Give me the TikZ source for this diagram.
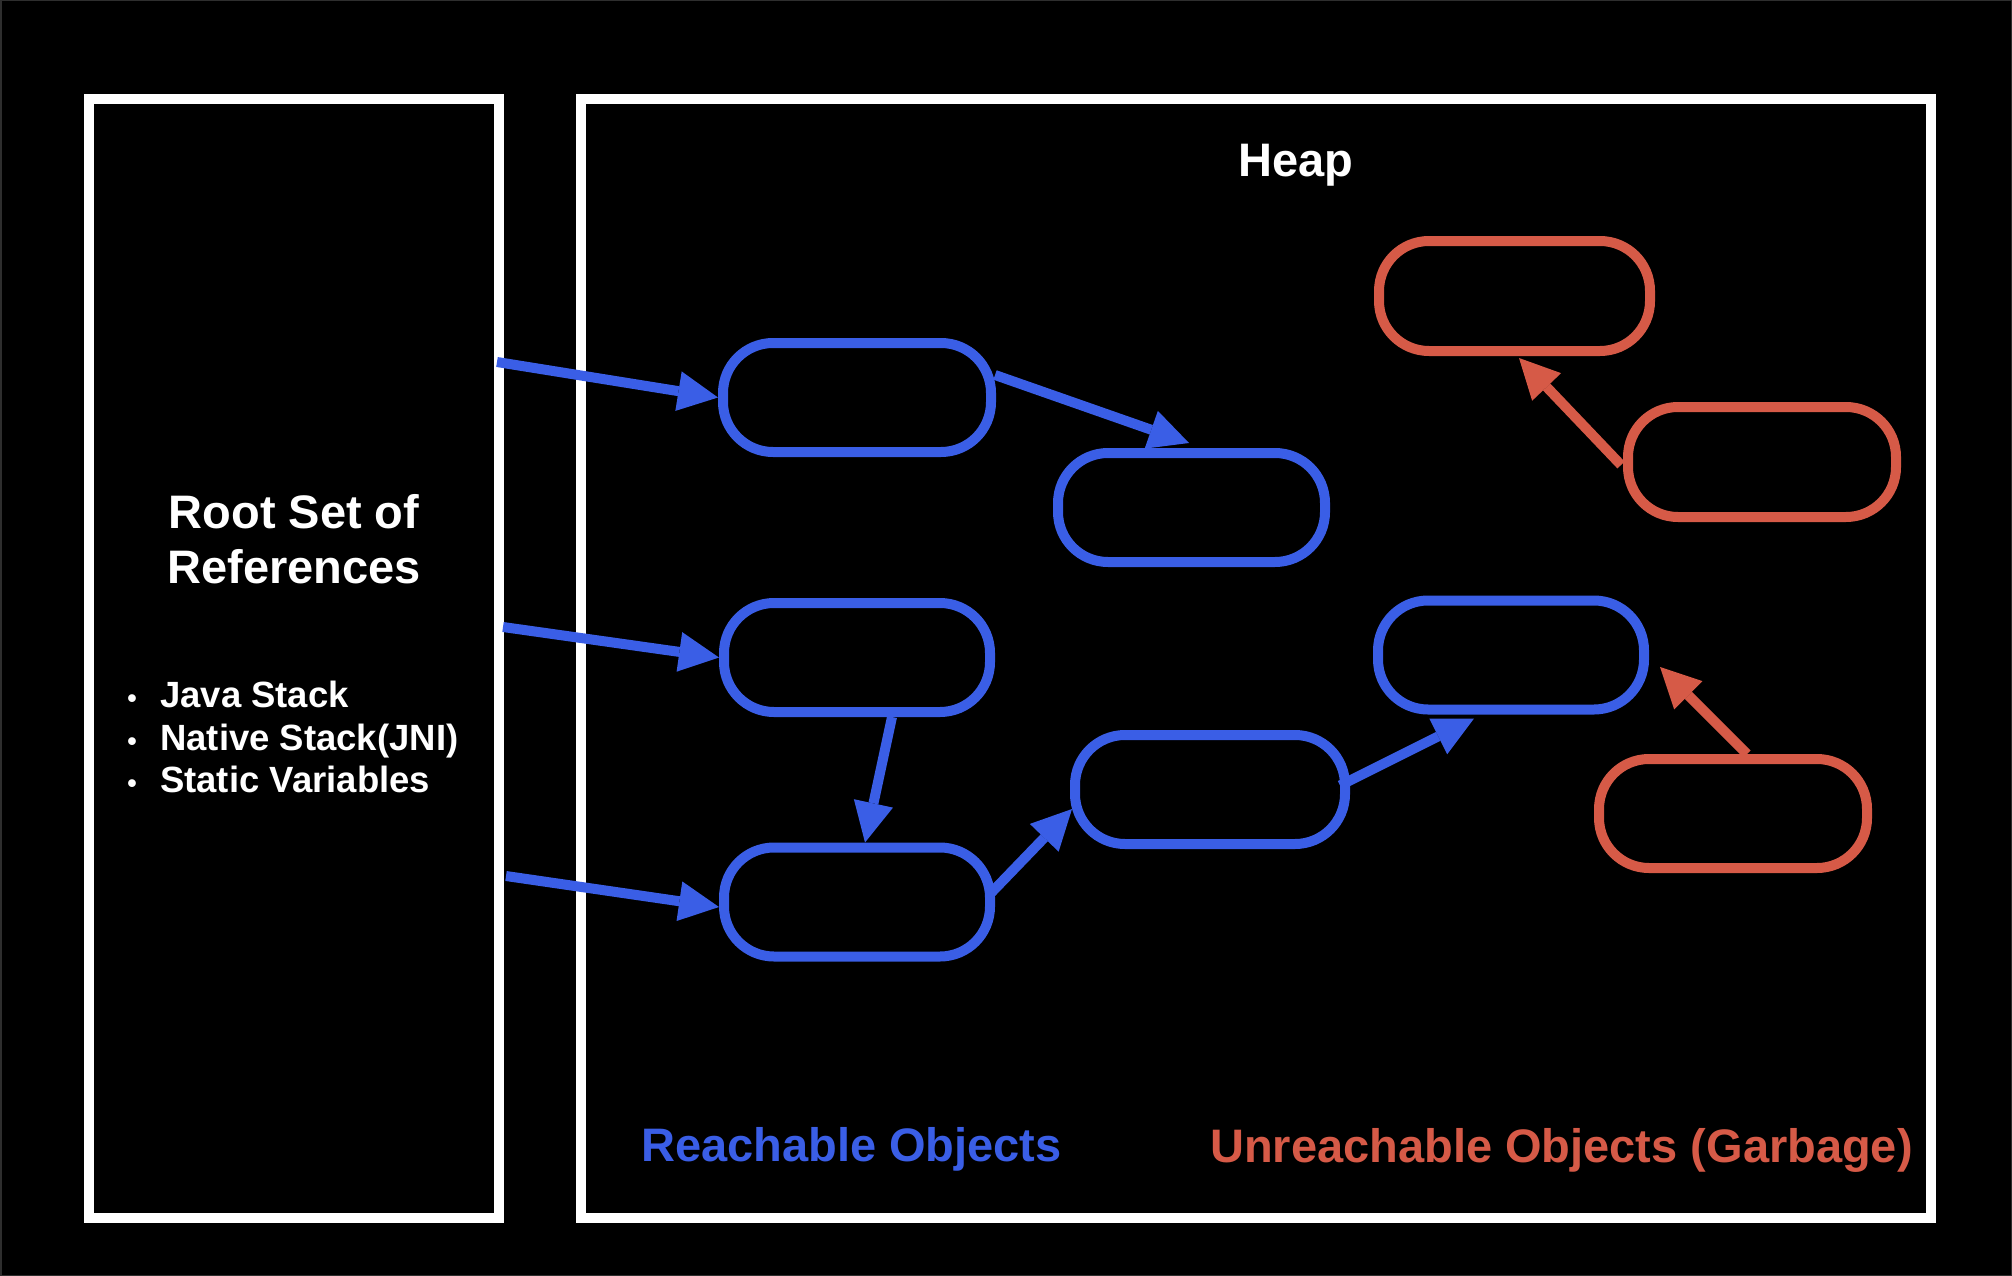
\documentclass[tikz,border=0pt]{standalone}
\usepackage{fontspec}
\setmainfont{Liberation Sans}
\usetikzlibrary{arrows.meta,calc}
\definecolor{reach}{HTML}{3A5EE6}
\definecolor{garb}{HTML}{D65A47}
\definecolor{edgegray}{HTML}{2E2E2E}
\begin{document}
\begin{tikzpicture}[x=1pt,y=-1pt,
  frame/.style={draw=white,line width=10pt,rectangle,inner sep=0pt,outer sep=0pt},
  pill/.style={rectangle,rounded corners=50pt,line width=10pt,minimum height=109pt,inner sep=0pt,outer sep=5pt},
  live/.style={pill,draw=reach},
  dead/.style={pill,draw=garb},
  ref/.style={line width=10pt,-{Triangle[length=40pt,width=40pt,line width=0pt]}},
  liveref/.style={ref,draw=reach},
  deadref/.style={ref,draw=garb},
  title/.style={text=white,font=\fontsize{47}{56}\selectfont\bfseries,inner sep=0pt,anchor=base},
  item/.style={text=white,font=\fontsize{36.5}{44}\selectfont\bfseries,inner sep=0pt,anchor=base west},
  bullet/.style={text=white,font=\fontsize{27}{32}\selectfont\bfseries,inner sep=0pt,anchor=base},
  legend/.style={font=\fontsize{47}{56}\selectfont\bfseries,inner sep=0pt,anchor=base}
]
\fill[black] (0,0) rectangle (2012,1276);
\useasboundingbox (0,0) rectangle (2012,1276);
\draw[edgegray,line width=1.5pt] (0.75,0.75) rectangle (2011.25,1275.25);

% frames
\node[frame,minimum width=410pt,minimum height=1119pt] (root) at (294,658.5) {};
\node[frame,minimum width=1350pt,minimum height=1119pt] (heap) at (1256,658.5) {};

% titles
\node[title] (rootA) at (294,528) {Root Set of};
\node[title] (rootB) at (294,583) {References};
\node[title] (heapT) at (1296,177) {Heap};

% root items
\node[bullet] (b1) at (132,707) {•};
\node[bullet] (b2) at (132,750) {•};
\node[bullet] (b3) at (132,792) {•};
\node[item] (i1) at (160,707) {Java Stack};
\node[item] (i2) at (160,750) {Native Stack(JNI)};
\node[item] (i3) at (160,792) {Static Variables};

% reachable objects
\node[live,minimum width=268pt] (A) at (857,397.5) {};
\node[live,minimum width=267pt] (B) at (1191.5,507.5) {};
\node[live,minimum width=266pt] (C) at (857,657.5) {};
\node[live,minimum width=266pt] (D) at (857,902) {};
\node[live,minimum width=270pt] (E) at (1210,789.5) {};
\node[live,minimum width=266pt] (F) at (1511,655) {};

% unreachable objects
\node[dead,minimum width=271pt,minimum height=110pt] (R1) at (1514.5,296) {};
\node[dead,minimum width=268pt,minimum height=110pt] (R2) at (1762,462) {};
\node[dead,minimum width=268pt] (R3) at (1733,813.5) {};

% root references
\coordinate (r1) at (497,362);
\coordinate (r2) at (503,627);
\coordinate (r3) at (506,876);
\draw[liveref] (r1) -- (A.west);
\draw[liveref] (r2) -- (C.west);
\draw[liveref] (r3) -- ($(D.west)+(0,5)$);

% object references
\draw[liveref] ($(A.east)+(-1,-22.5)$) -- ($(B.north)+(-2.5,-5)$);
\draw[liveref] ($(C.south)+(35,0)$) -- ($(D.north)+(8,0)$);
\draw[liveref] ($(D.east)+(-4,-9)$) -- ($(E.west)+(2,19.5)$);
\draw[liveref] ($(E.east)+(-10,-4)$) -- ($(F.south)+(-37,4)$);
\draw[deadref] ($(R2.west)+(-2,3)$) -- ($(R1.south)+(4.5,2)$);
\draw[deadref] ($(R3.north)+(14,0)$) -- ($(F.east)+(11,12)$);

% legend
\node[legend,text=reach] (lgA) at (851.5,1161) {Reachable Objects};
\node[legend,text=garb] (lgB) at (1561.5,1162) {Unreachable Objects (Garbage)};
\end{tikzpicture}
\end{document}
